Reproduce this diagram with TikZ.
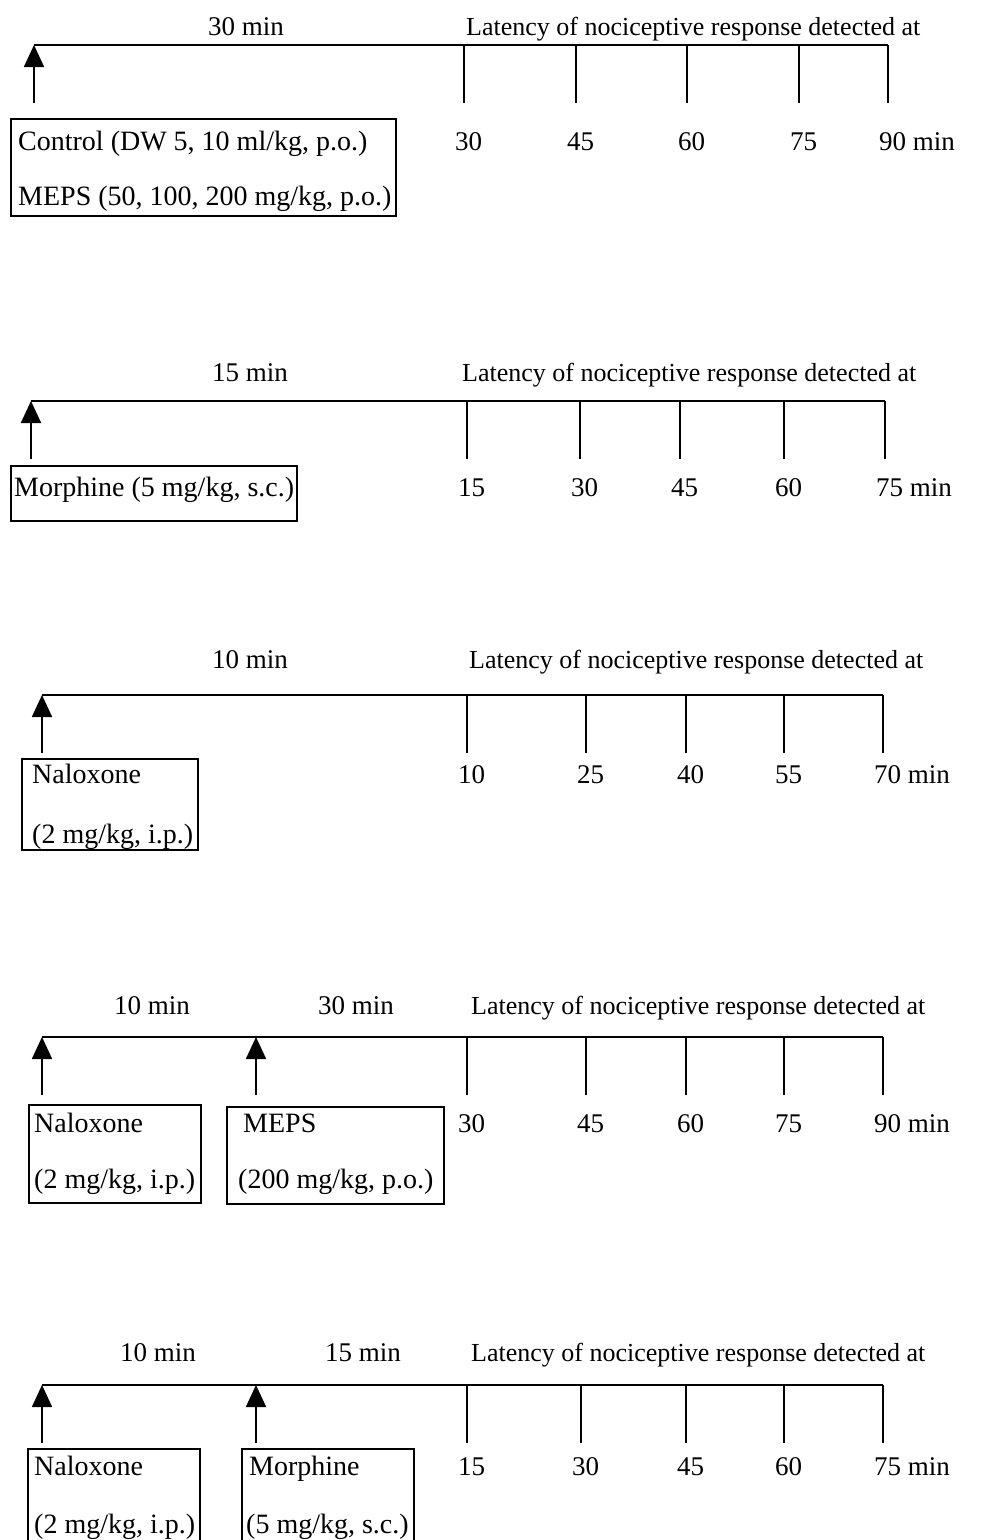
\documentclass[tikz,border=0pt]{standalone}
\usepackage{fontspec}
\setmainfont{Liberation Serif}
\usetikzlibrary{arrows.meta}
\tikzset{
  lbl/.style={inner sep=0pt, anchor=base, font=\fontsize{27}{30}\selectfont},
  lat/.style={inner sep=0pt, anchor=base west, font=\fontsize{26}{30}\selectfont},
  num/.style={inner sep=0pt, anchor=base west, font=\fontsize{27}{30}\selectfont},
  txt/.style={inner sep=0pt, anchor=base west, font=\fontsize{28}{30}\selectfont},
  box/.style={draw, line width=1.6pt, anchor=north west, inner sep=0pt},
  axis/.style={line width=1.8pt},
  dose/.style={line width=1.8pt, -{Triangle[width=20pt,length=22pt]}}
}
\begin{document}
\begin{tikzpicture}[x=1pt,y=-1pt]
\useasboundingbox (0,0) rectangle (1002,1540);
\clip (0,0) rectangle (1002,1540);

\coordinate (s1) at (34,45);
\coordinate (d1) at (34,103);
\node[lbl] (m1) at (246,35) {30 min};
\node[lat] (l1) at (466,35) {Latency of nociceptive response detected at};
\foreach \x/\t [count=\i] in {464/30,576/45,687/60,799/75,888/90 min}{
  \coordinate (t1\i) at (\x,45);
  \draw[axis] (t1\i) -- ++(0,58);
  \node[num] (n1\i) at (\x-9,150) {\t};
}
\draw[axis] (s1) -- (t15);
\draw[dose] (d1) -- (s1);
\node[box, minimum width=385pt, minimum height=97pt] (b1) at (10,118) {};
\node[txt] (c1) at (18,150) {Control (DW 5, 10 ml/kg, p.o.)};
\node[txt] (c2) at (18,205) {MEPS (50, 100, 200 mg/kg, p.o.)};

\coordinate (s2) at (31,401);
\coordinate (d2) at (31,459);
\node[lbl] (m2) at (250,381) {15 min};
\node[lat] (l2) at (462,381) {Latency of nociceptive response detected at};
\foreach \x/\t [count=\i] in {467/15,580/30,680/45,784/60,885/75 min}{
  \coordinate (t2\i) at (\x,401);
  \draw[axis] (t2\i) -- ++(0,58);
  \node[num] (n2\i) at (\x-9,496) {\t};
}
\draw[axis] (s2) -- (t25);
\draw[dose] (d2) -- (s2);
\node[box, minimum width=286pt, minimum height=55pt] (b2) at (10,465) {};
\node[txt] (c3) at (14,496) {Morphine (5 mg/kg, s.c.)};

\coordinate (s3) at (42,695);
\coordinate (d3) at (42,753);
\node[lbl] (m3) at (250,668) {10 min};
\node[lat] (l3) at (469,668) {Latency of nociceptive response detected at};
\foreach \x/\t [count=\i] in {467/10,586/25,686/40,784/55,883/70 min}{
  \coordinate (t3\i) at (\x,695);
  \draw[axis] (t3\i) -- ++(0,58);
  \node[num] (n3\i) at (\x-9,783) {\t};
}
\draw[axis] (s3) -- (t35);
\draw[dose] (d3) -- (s3);
\node[box, minimum width=176pt, minimum height=91pt] (b3) at (21,758) {};
\node[txt] (c4) at (32,783) {Naloxone};
\node[txt] (c5) at (32,843) {(2 mg/kg, i.p.)};

\coordinate (s4) at (42,1037);
\coordinate (d4) at (42,1095);
\coordinate (s4b) at (256,1037);
\coordinate (d4b) at (256,1095);
\node[lbl] (m4) at (152,1014) {10 min};
\node[lbl] (m4b) at (356,1014) {30 min};
\node[lat] (l4) at (471,1014) {Latency of nociceptive response detected at};
\foreach \x/\t [count=\i] in {467/30,586/45,686/60,784/75,883/90 min}{
  \coordinate (t4\i) at (\x,1037);
  \draw[axis] (t4\i) -- ++(0,58);
  \node[num] (n4\i) at (\x-9,1132) {\t};
}
\draw[axis] (s4) -- (t45);
\draw[dose] (d4) -- (s4);
\draw[dose] (d4b) -- (s4b);
\node[box, minimum width=172pt, minimum height=98pt] (b4) at (28,1104) {};
\node[txt] (c6) at (34,1132) {Naloxone};
\node[txt] (c7) at (34,1188) {(2 mg/kg, i.p.)};
\node[box, minimum width=217pt, minimum height=97pt] (b4b) at (226,1106) {};
\node[txt] (c8) at (243,1132) {MEPS};
\node[txt] (c9) at (238,1188) {(200 mg/kg, p.o.)};

\coordinate (s5) at (42,1385);
\coordinate (d5) at (42,1443);
\coordinate (s5b) at (256,1385);
\coordinate (d5b) at (256,1443);
\node[lbl] (m5) at (158,1361) {10 min};
\node[lbl] (m5b) at (363,1361) {15 min};
\node[lat] (l5) at (471,1361) {Latency of nociceptive response detected at};
\foreach \x/\t [count=\i] in {467/15,581/30,686/45,784/60,883/75 min}{
  \coordinate (t5\i) at (\x,1385);
  \draw[axis] (t5\i) -- ++(0,58);
  \node[num] (n5\i) at (\x-9,1475) {\t};
}
\draw[axis] (s5) -- (t55);
\draw[dose] (d5) -- (s5);
\draw[dose] (d5b) -- (s5b);
\node[box, minimum width=172pt, minimum height=100pt] (b5) at (27,1448) {};
\node[txt] (c10) at (34,1475) {Naloxone};
\node[txt] (c11) at (34,1533) {(2 mg/kg, i.p.)};
\node[box, minimum width=172pt, minimum height=100pt] (b5b) at (241,1448) {};
\node[txt] (c12) at (249,1475) {Morphine};
\node[txt] (c13) at (246,1533) {(5 mg/kg, s.c.)};
\end{tikzpicture}
\end{document}
